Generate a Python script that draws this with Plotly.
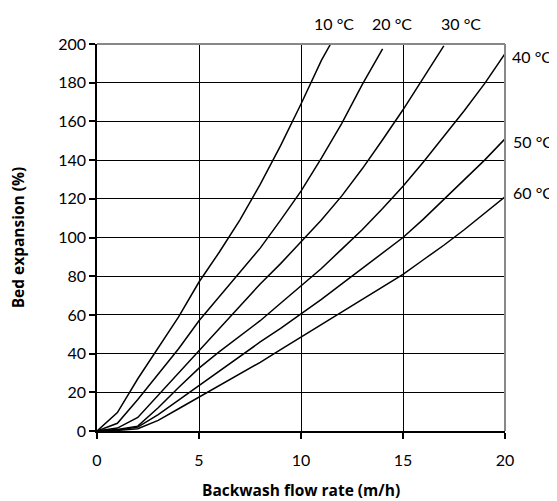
import plotly.graph_objects as go

# Backwash flow rate (m/h) and bed expansion (%) per water temperature
t10_x = [0, 1, 2, 3, 4, 5, 6, 7, 8, 9, 10, 11, 11.45]
t10_y = [0, 9.5, 27, 43, 59, 77, 92.5, 109, 127.5, 147.5, 169, 191.5, 200]

t20_x = [0, 1, 2, 3, 4, 5, 6, 7, 8, 9, 10, 11, 12, 13, 14]
t20_y = [0, 4, 16.3, 29.4, 42.5, 57, 69.5, 82, 94.5, 109, 124, 141, 159, 179, 197.5]

t30_x = [0, 1, 2, 3, 4, 5, 6, 7, 8, 9, 10, 11, 12, 13, 14, 15, 16, 17]
t30_y = [0, 1.5, 7, 18.5, 30.5, 42, 53.5, 65, 76, 86.5, 97.5, 109, 121.5, 135.5, 150.5, 166, 182.5, 199]

t40_x = [0, 1, 2, 3, 4, 5, 6, 7, 8, 9, 10, 11, 12, 13, 14, 15, 16, 17, 18, 19, 20]
t40_y = [0, 0.8, 2.5, 12, 22.5, 32.5, 41, 49, 57, 66, 75, 84, 94, 104, 115, 126.5, 139, 152, 165.5, 179.5, 195]

t50_x = [0, 1, 2, 3, 4, 5, 6, 7, 8, 9, 10, 11, 12, 13, 14, 15, 16, 17, 18, 19, 20]
t50_y = [0, 0.5, 2, 8.5, 16, 23.5, 31, 38.5, 46, 53, 60.5, 68, 76, 84, 92, 100, 109.5, 119.5, 129.5, 140, 151]

t60_x = [0, 1, 2, 3, 4, 5, 6, 7, 8, 9, 10, 11, 12, 13, 14, 15, 16, 17, 18, 19, 20]
t60_y = [0, 0.3, 1.2, 5.5, 11.5, 17.5, 23.5, 29.5, 35.5, 42, 48.5, 55, 61.5, 68, 74.5, 81, 88.5, 96, 104, 112.5, 121]

series_names = ["10 °C", "20 °C", "30 °C", "40 °C", "50 °C", "60 °C"]
series_x = [t10_x, t20_x, t30_x, t40_x, t50_x, t60_x]
series_y = [t10_y, t20_y, t30_y, t40_y, t50_y, t60_y]

x_ticks = [0, 5, 10, 15, 20]
y_ticks = [0, 20, 40, 60, 80, 100, 120, 140, 160, 180, 200]
x_title = "Backwash flow rate (m/h)"
y_title = "Bed expansion (%)"

# label anchor positions (paper coords)
label_pos = [
    (0.581, 1.054, "center"),
    (0.723, 1.054, "center"),
    (0.892, 1.054, "center"),
    (1.013, 0.968, "left"),
    (1.015, 0.748, "left"),
    (1.015, 0.616, "left"),
]

FONT = "Lato, 'Open Sans', sans-serif"
TFONT = "'Open Sans', Lato, sans-serif"

fig = go.Figure()
for name, xs, ys in zip(series_names, series_x, series_y):
    fig.add_trace(go.Scatter(x=xs, y=ys, mode="lines", name=name,
                             line=dict(color="black", width=1.5),
                             showlegend=False, hoverinfo="skip"))

annotations = []
for name, (ax, ay, anchor) in zip(series_names, label_pos):
    annotations.append(dict(x=ax, y=ay, xref="paper", yref="paper", text=name,
                            showarrow=False, xanchor=anchor, yanchor="middle",
                            font=dict(family=FONT, size=16, color="black")))
annotations.append(dict(x=0.5, y=-0.153, xref="paper", yref="paper",
                        text="<b>" + x_title + "</b>", showarrow=False,
                        xanchor="center", yanchor="middle",
                        font=dict(family=TFONT, size=15.5, color="black")))
annotations.append(dict(x=-0.194, y=0.5, xref="paper", yref="paper",
                        text="<b>" + y_title + "</b>", showarrow=False, textangle=-90,
                        xanchor="center", yanchor="middle",
                        font=dict(family=TFONT, size=15.5, color="black")))

# page body has an 8px margin; size the figure so it fills the window
fig.update_layout(
    width=549, height=493,
    margin=dict(l=89, r=52, t=36, b=70),
    paper_bgcolor="white", plot_bgcolor="white",
    font=dict(family=FONT, size=16, color="black"),
    annotations=annotations,
    shapes=[
        dict(type="line", xref="x domain", yref="y domain", x0=0, x1=1, y0=1, y1=1,
             line=dict(color="#888888", width=2), layer="above"),
        dict(type="line", xref="x domain", yref="y domain", x0=1, x1=1, y0=0, y1=1,
             line=dict(color="#888888", width=2), layer="above"),
    ],
)
fig.update_xaxes(range=[0, 20], tickvals=x_ticks, ticks="outside", ticklen=6,
                 tickcolor="black", tickwidth=1.5, automargin=False,
                 ticklabelstandoff=8,
                 showline=True, linecolor="black", linewidth=1.5,
                 showgrid=True, gridcolor="black", gridwidth=1.3, zeroline=False)
fig.update_yaxes(range=[0, 200], tickvals=y_ticks, ticks="outside", ticklen=6,
                 tickcolor="black", tickwidth=1.5, automargin=False,
                 showline=True, linecolor="black", linewidth=1.5,
                 showgrid=True, gridcolor="black", gridwidth=1.3, zeroline=False)

fig.write_html("out.html")
